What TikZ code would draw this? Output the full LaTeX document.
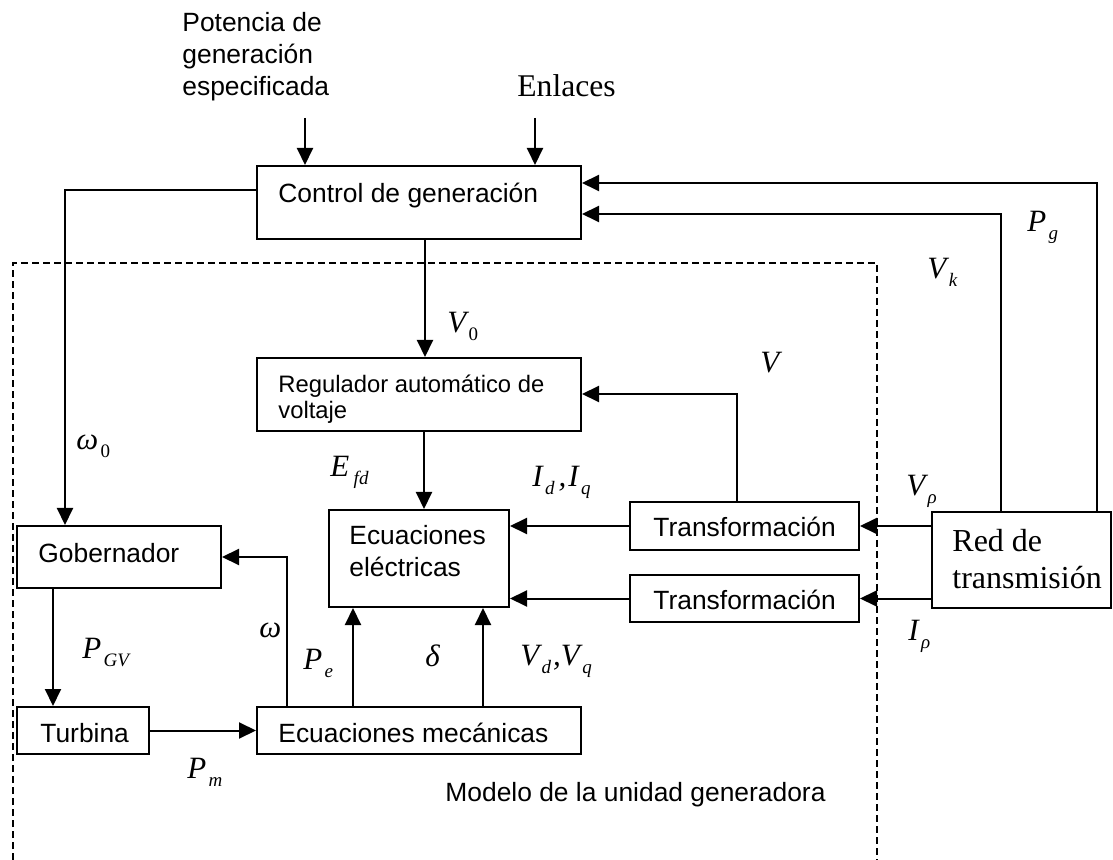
\documentclass[tikz,border=0pt]{standalone}
\usepackage{fontspec}
\setmainfont{Liberation Sans}
\newfontfamily\tms{Liberation Serif}
\usetikzlibrary{arrows.meta,fit}
\newcommand\arfont{\fontsize{13.2}{16}\selectfont}
\newcommand\mv[1]{{\tms\fontsize{15.5}{17}\selectfont\itshape #1}}
\newcommand\msym[2]{\mv{#1}\kern1.2pt\raisebox{-4pt}{\tms\fontsize{9.5}{10}\selectfont #2}}
\begin{document}
\begin{tikzpicture}[x=0.5pt,y=-0.5pt,
  box/.style={draw,line width=1pt,inner sep=0pt},
  conn/.style={line width=1pt,-{Triangle[length=8.5pt,width=8pt]}},
  txt/.style={inner sep=0pt,anchor=base west,font=\arfont},
  sym/.style={inner sep=0pt,anchor=base west},
  frame/.style={line width=0.9pt,dash pattern=on 3.5pt off 2pt}]
\useasboundingbox (0,0) rectangle (1113,860);

% boxes
\node[box,fit={(257,166) (581,239)}] (ctrl) {};
\node[box,fit={(257,358) (581,431)}] (reg) {};
\node[box,fit={(17,526) (221,588)}] (gob) {};
\node[box,fit={(329,510) (509,607)}] (ecel) {};
\node[box,fit={(630,502) (859,550)}] (tr1) {};
\node[box,fit={(630,575) (859,622)}] (tr2) {};
\node[box,fit={(932,512) (1111,608)}] (red) {};
\node[box,fit={(17,707) (149,754)}] (turb) {};
\node[box,fit={(257,707) (581,754)}] (ecmec) {};

% box texts
\node[txt] (tctrl) at (278,203) {Control de generación};
\node[txt,font=\fontsize{11.9}{13.5}\selectfont] (treg) at (278,393) {\vtop{\baselineskip=12.6pt\hbox{Regulador automático de}\hbox{voltaje}}};
\node[txt] (tgob) at (38,562) {Gobernador};
\node[txt] (tecel) at (349,545) {\vtop{\baselineskip=16pt\hbox{Ecuaciones}\hbox{eléctricas}}};
\node[txt] (ttr1) at (653,537) {Transformación};
\node[txt] (ttr2) at (653,610) {Transformación};
\node[txt,font=\tms\fontsize{16}{18}\selectfont] (tred) at (952,552) {\vtop{\baselineskip=18.5pt\hbox{Red de}\hbox{transmisión}}};
\node[txt] (tturb) at (40,742) {Turbina};
\node[txt] (tecm) at (278,742) {Ecuaciones mecánicas};

% free texts
\node[txt] (tmod) at (445,801) {Modelo de la unidad generadora};
\node[txt] (tpot) at (182,32) {\vtop{\baselineskip=16pt\hbox{Potencia de}\hbox{generación}\hbox{especificada}}};
\node[txt,font=\tms\fontsize{15.8}{18}\selectfont] (tenl) at (517,97) {Enlaces};

% symbols
\node[sym] (lv0) at (447,333) {\msym{V}{0}};
\node[sym] (lw0) at (76,450) {\msym{ω}{0}};
\node[sym] (lefd) at (330,477) {\msym{E}{\kern1pt\itshape fd}};
\node[sym] (lvk) at (927,279) {\msym{V}{\itshape k}};
\node[sym] (lpg) at (1027,232) {\msym{P}{\itshape g}};
\node[sym] (lv) at (760,373) {\mv{V}};
\node[sym] (lidq) at (532,487) {\msym{I}{\itshape d}\mv{\kern2pt,\kern1pt}\msym{I}{\itshape q}};
\node[sym] (lvr) at (906,495) {\msym{V}{\itshape ρ}};
\node[sym] (lir) at (908,640) {\msym{I}{\itshape ρ}};
\node[sym] (lpgv) at (82,658) {\msym{P}{\itshape GV}};
\node[sym] (lw) at (259,637) {\mv{ω}};
\node[sym] (lpe) at (303,669) {\msym{P}{\itshape e}};
\node[sym] (ld) at (425,666) {\mv{δ}};
\node[sym] (lvdq) at (520,665) {\msym{V}{\itshape d}\mv{\kern1pt,}\msym{V}{\itshape q}};
\node[sym] (lpm) at (187,778) {\msym{P}{\itshape m}};

% dashed frame
\draw[frame] (13,860) -- (13,263) -- (877,263) -- (877,860);

% connectors
\coordinate (cpot) at (305,118);
\draw[conn] (cpot) -- (cpot |- ctrl.north);
\coordinate (cenl) at (535,118);
\draw[conn] (cenl) -- (cenl |- ctrl.north);
\coordinate (cpg) at (1097,183);
\draw[conn] (cpg |- red.north) -- (cpg) -- (cpg -| ctrl.east);
\coordinate (cvk) at (1001,214);
\draw[conn] (cvk |- red.north) -- (cvk) -- (cvk -| ctrl.east);
\coordinate (cv0) at (425,300);
\draw[conn] (cv0 |- ctrl.south) -- (cv0 |- reg.north);
\coordinate (cw0) at (65,190);
\draw[conn] (cw0 -| ctrl.west) -- (cw0) -- (cw0 |- gob.north);
\coordinate (cefd) at (424,470);
\draw[conn] (cefd |- reg.south) -- (cefd |- ecel.north);
\coordinate (cv) at (737,394);
\draw[conn] (cv |- tr1.north) -- (cv) -- (cv -| reg.east);
\draw[conn] (tr1.west) -- (tr1.west -| ecel.east);
\draw[conn] (tr2.west) -- (tr2.west -| ecel.east);
\draw[conn] (tr1.east -| red.west) -- (tr1.east);
\draw[conn] (tr2.east -| red.west) -- (tr2.east);
\coordinate (cgv) at (53,650);
\draw[conn] (cgv |- gob.south) -- (cgv |- turb.north);
\draw[conn] (turb.east) -- (turb.east -| ecmec.west);
\coordinate (cw) at (287,557);
\draw[conn] (cw |- ecmec.north) -- (cw) -- (cw -| gob.east);
\coordinate (cpe) at (353,650);
\draw[conn] (cpe |- ecmec.north) -- (cpe |- ecel.south);
\coordinate (cdl) at (483,650);
\draw[conn] (cdl |- ecmec.north) -- (cdl |- ecel.south);
\end{tikzpicture}
\end{document}
